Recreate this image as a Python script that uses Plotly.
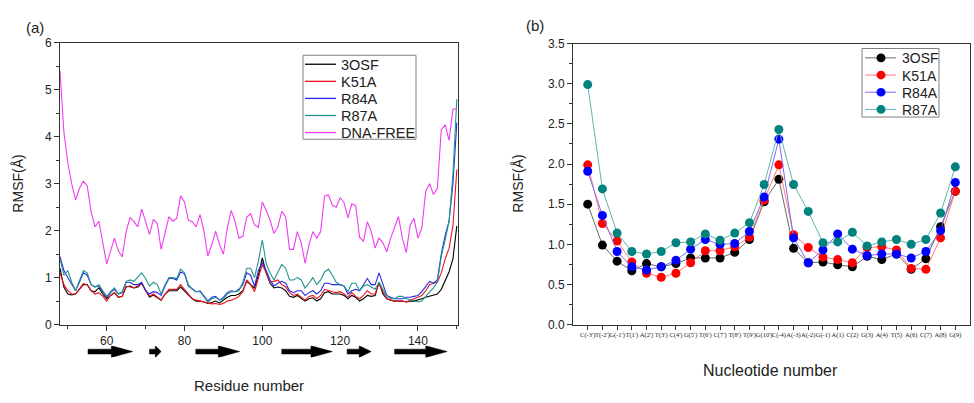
import plotly.graph_objects as go

# ---------------- data: panel (a) ----------------
residues = list(range(48, 151))
rmsf_3osf = [1.20, 0.80, 0.65, 0.63, 0.65, 0.75, 0.85, 0.85, 0.72, 0.70,
             0.78, 0.65, 0.55, 0.62, 0.68, 0.58, 0.60, 0.80, 0.82, 0.78,
             0.80, 0.88, 0.72, 0.58, 0.63, 0.58, 0.52, 0.65, 0.72, 0.72,
             0.72, 0.80, 0.72, 0.62, 0.55, 0.50, 0.50, 0.48, 0.45, 0.47,
             0.50, 0.46, 0.52, 0.58, 0.62, 0.62, 0.65, 0.72, 0.92, 0.85,
             0.78, 1.05, 1.42, 1.10, 0.88, 0.78, 0.80, 0.78, 0.72, 0.60,
             0.58, 0.62, 0.55, 0.50, 0.55, 0.57, 0.50, 0.55, 0.68, 0.70,
             0.65, 0.65, 0.65, 0.62, 0.55, 0.62, 0.58, 0.50, 0.55, 0.62,
             0.60, 0.62, 0.90, 0.65, 0.55, 0.52, 0.50, 0.50, 0.50, 0.48,
             0.50, 0.50, 0.52, 0.55, 0.58, 0.60, 0.62, 0.65, 0.75, 0.95,
             1.12, 1.40, 2.10]
rmsf_k51a = [1.10, 0.85, 0.72, 0.65, 0.65, 0.75, 0.87, 0.85, 0.72, 0.65,
             0.68, 0.60, 0.50, 0.62, 0.68, 0.58, 0.60, 0.82, 0.80, 0.78,
             0.82, 0.88, 0.72, 0.60, 0.65, 0.58, 0.52, 0.65, 0.75, 0.75,
             0.75, 0.85, 0.75, 0.65, 0.55, 0.52, 0.50, 0.47, 0.45, 0.44,
             0.45, 0.43, 0.45, 0.50, 0.52, 0.55, 0.60, 0.70, 0.95, 0.85,
             0.70, 1.00, 1.28, 1.10, 0.90, 0.92, 0.95, 0.85, 0.80, 0.68,
             0.62, 0.65, 0.58, 0.52, 0.60, 0.62, 0.55, 0.62, 0.75, 0.72,
             0.70, 0.68, 0.70, 0.65, 0.58, 0.68, 0.60, 0.55, 0.62, 0.72,
             0.65, 0.65, 0.88, 0.70, 0.55, 0.52, 0.50, 0.50, 0.50, 0.48,
             0.52, 0.55, 0.58, 0.62, 0.72, 0.85, 0.88, 0.90, 1.10, 1.40,
             1.62, 2.10, 3.30]
rmsf_r84a = [1.45, 1.15, 1.00, 0.85, 0.72, 0.90, 1.10, 1.05, 0.85, 0.80,
             0.82, 0.70, 0.58, 0.68, 0.75, 0.65, 0.68, 0.90, 0.90, 0.85,
             0.85, 0.90, 0.72, 0.65, 0.70, 0.68, 0.62, 0.82, 0.98, 0.98,
             0.95, 1.12, 1.08, 0.82, 0.75, 0.70, 0.72, 0.60, 0.50, 0.58,
             0.60, 0.52, 0.58, 0.68, 0.72, 0.70, 0.75, 0.85, 1.10, 1.05,
             0.82, 1.15, 1.32, 1.15, 0.95, 0.82, 0.88, 0.92, 0.88, 0.72,
             0.68, 0.72, 0.72, 0.62, 0.68, 0.72, 0.65, 0.72, 0.88, 0.88,
             0.85, 0.85, 0.85, 0.82, 0.65, 0.72, 0.75, 0.72, 0.85, 0.98,
             0.85, 0.85, 1.10, 0.85, 0.62, 0.58, 0.55, 0.55, 0.55, 0.58,
             0.58, 0.60, 0.62, 0.70, 0.80, 0.92, 0.88, 0.95, 1.50, 1.90,
             2.20, 3.00, 4.30]
rmsf_r87a = [1.40, 1.05, 1.15, 0.90, 0.72, 0.95, 1.15, 1.10, 0.85, 0.80,
             0.85, 0.72, 0.60, 0.70, 0.78, 0.65, 0.70, 0.92, 0.95, 0.92,
             1.00, 1.10, 0.98, 0.82, 0.90, 0.85, 0.65, 0.85, 1.00, 1.00,
             0.98, 1.18, 1.10, 0.85, 0.75, 0.70, 0.70, 0.58, 0.48, 0.55,
             0.58, 0.52, 0.55, 0.65, 0.70, 0.70, 0.72, 0.90, 1.20, 1.20,
             1.00, 1.35, 1.80, 1.30, 1.10, 0.95, 1.10, 1.28, 1.20, 0.95,
             0.95, 1.00, 0.95, 0.78, 0.88, 1.00, 0.85, 0.95, 1.12, 1.18,
             1.05, 0.90, 0.85, 0.82, 0.70, 0.88, 0.88, 0.72, 0.82, 0.85,
             0.80, 0.75, 0.90, 0.75, 0.60, 0.55, 0.55, 0.60, 0.60, 0.55,
             0.52, 0.50, 0.48, 0.50, 0.60, 0.68, 0.78, 0.90, 1.45, 1.80,
             2.20, 3.20, 4.80]
rmsf_dnafree = [5.40, 4.10, 3.45, 3.00, 2.65, 2.90, 3.05, 2.95, 2.40, 2.08,
                2.20, 1.77, 1.29, 1.57, 1.84, 1.57, 1.44, 1.98, 2.28, 2.19,
                2.08, 2.46, 2.19, 1.92, 2.24, 2.15, 1.60, 1.94, 2.30, 2.20,
                2.26, 2.74, 2.61, 2.22, 2.19, 2.08, 2.34, 1.98, 1.46, 1.70,
                1.99, 1.70, 1.50, 2.05, 2.43, 2.19, 1.84, 1.88, 2.29, 2.36,
                2.12, 2.07, 2.61, 2.43, 2.22, 1.94, 2.08, 2.41, 2.29, 1.60,
                1.60, 1.98, 1.74, 1.31, 1.70, 1.98, 1.84, 1.98, 2.74, 2.76,
                2.54, 2.50, 2.70, 2.60, 2.27, 2.57, 2.53, 1.86, 1.77, 2.19,
                1.98, 1.63, 1.84, 1.74, 1.55, 1.84, 2.05, 2.30, 1.84, 1.53,
                2.12, 2.26, 1.84, 2.05, 2.84, 3.00, 2.77, 2.90, 4.15, 4.25,
                3.92, 4.58, 4.60]
# beta strands (start, end residue)
strand_start = [55.2, 71.0, 82.9, 105.0, 121.8, 134.0]
strand_end = [66.7, 74.0, 94.2, 118.0, 128.0, 147.5]

# ---------------- data: panel (b) ----------------
nucleotides = ["C(-3')", "T(-2')", "G(-1')", "T(1')", "A(2')", "T(3')", "C(4')",
               "G(5')", "T(6')", "C(7')", "T(8')", "T(9')", "G(10')", "C(-4)",
               "A(-3)", "A(-2)", "G(-1)", "A(1)", "C(2)", "G(3)", "A(4)", "T(5)",
               "A(6)", "C(7)", "A(8)", "G(9)"]
nuc_pos = list(range(1, 27))
na_3osf = [1.50, 0.99, 0.79, 0.67, 0.76, 0.72, 0.76, 0.83, 0.83, 0.83, 0.90, 1.06, 1.53,
           1.81, 0.95, 0.77, 0.78, 0.745, 0.72, 0.85, 0.81, 0.88, 0.69, 0.82, 1.22, 1.66]
na_k51a = [1.99, 1.26, 1.04, 0.78, 0.64, 0.59, 0.64, 0.77, 0.92, 0.92, 0.97, 1.09, 1.55,
           1.99, 1.12, 0.96, 0.84, 0.81, 0.77, 0.96, 0.97, 0.93, 0.70, 0.69, 1.08, 1.66]
na_r84a = [1.91, 1.36, 0.91, 0.72, 0.68, 0.72, 0.80, 0.94, 1.06, 1.00, 1.01, 1.16, 1.59,
           2.31, 1.08, 0.77, 0.93, 1.13, 0.94, 0.86, 0.88, 0.88, 0.83, 0.91, 1.17, 1.77]
na_r87a = [2.99, 1.69, 1.14, 0.91, 0.88, 0.91, 1.02, 1.03, 1.13, 1.05, 1.14, 1.27, 1.745,
           2.43, 1.745, 1.41, 1.02, 1.03, 1.15, 0.98, 1.03, 1.06, 1.00, 1.06, 1.39, 1.965]

W, H = 974, 403
FONT = "Liberation Sans, Arial, sans-serif"
TXT = "#222222"
AX = "#333333"

def px_x(p):
    return p / W

def px_y(p):
    return (H - p) / H

fig = go.Figure()

left_series = [("3OSF", rmsf_3osf, "#000000"), ("K51A", rmsf_k51a, "#e8141c"),
               ("R84A", rmsf_r84a, "#2a2ae6"), ("R87A", rmsf_r87a, "#22968e"),
               ("DNA-FREE", rmsf_dnafree, "#f03cf0")]
for name, vals, col in left_series:
    fig.add_trace(go.Scatter(x=residues, y=vals, mode="lines", name=name,
                             line=dict(color=col, width=1.1), showlegend=False,
                             xaxis="x", yaxis="y"))

# strand arrows
for s, e in zip(strand_start, strand_end):
    L = e - s
    h = min(5.5, 0.5 * L)
    xs = [s, e - h, e - h, e, e - h, e - h, s, s]
    ys = [0.42, 0.42, 1.0, 0.0, -1.0, -0.42, -0.42, 0.42]
    fig.add_trace(go.Scatter(x=xs, y=ys, mode="lines", fill="toself",
                             fillcolor="#000000", line=dict(color="#000000", width=0.5),
                             showlegend=False, hoverinfo="skip",
                             xaxis="x", yaxis="y3"))

right_series = [("3OSF", na_3osf, "#000000", "#6a6a6a"),
                ("K51A", na_k51a, "#ff0000", "#ff7a7a"),
                ("R84A", na_r84a, "#0000ff", "#7a6af0"),
                ("R87A", na_r87a, "#00827f", "#5fb5b2")]
for name, vals, mcol, lcol in right_series:
    fig.add_trace(go.Scatter(x=nuc_pos, y=vals, mode="lines+markers", name=name,
                             line=dict(color=lcol, width=1),
                             marker=dict(color=mcol, size=9), showlegend=False,
                             xaxis="x2", yaxis="y2"))

axis_common = dict(showline=True, linecolor=AX, linewidth=1, mirror=True,
                   ticks="outside", tickcolor=AX, showgrid=False,
                   zeroline=False)
tickfont = dict(family=FONT, size=12, color=TXT)
minor_style = dict(ticks="outside", ticklen=3, tickcolor=AX, showgrid=False)

fig.update_layout(
    width=W, height=H, margin=dict(l=0, r=0, t=0, b=0),
    paper_bgcolor="white", plot_bgcolor="white", showlegend=False,
    xaxis=dict(domain=[px_x(60), px_x(458)], range=[48, 150.3], anchor="y",
               tick0=40, dtick=20, ticklen=5, tickfont=tickfont,
               minor=dict(dtick=10, **minor_style), **axis_common),
    yaxis=dict(domain=[px_y(329), px_y(37)], range=[0, 6], anchor="x", dtick=1,
               ticklen=5, tickfont=tickfont,
               minor=dict(dtick=0.5, **minor_style), **axis_common),
    yaxis3=dict(domain=[px_y(363), px_y(351)], range=[-1, 1], anchor="x",
                visible=False, fixedrange=True),
    xaxis2=dict(domain=[px_x(573), px_x(970)], range=[0, 27], anchor="y2",
                tickmode="array", tickvals=nuc_pos, ticktext=nucleotides,
                tickangle=0, ticklen=4,
                tickfont=dict(family="Liberation Serif, Times New Roman, serif",
                              size=6.5, color=TXT),
                **axis_common),
    yaxis2=dict(domain=[px_y(329), px_y(38)], range=[0, 3.5], anchor="x2", dtick=0.5,
                tickformat=".1f", ticklen=5, tickfont=tickfont,
                minor=dict(dtick=0.25, **minor_style), **axis_common),
)

# ---- legends (drawn as boxes, sample lines and labels) ----
def box(x0, y0, x1, y1):
    fig.add_shape(type="rect", xref="paper", yref="paper",
                  x0=px_x(x0), x1=px_x(x1), y0=px_y(y1), y1=px_y(y0),
                  line=dict(color="#808080", width=1), fillcolor="white", layer="above")

box(303, 50, 416, 137)
for i, (name, _, col) in enumerate(left_series):
    yy = 59.3 + i * 17.7
    fig.add_shape(type="line", xref="paper", yref="paper", layer="above",
                  x0=px_x(305), x1=px_x(336), y0=px_y(yy), y1=px_y(yy),
                  line=dict(color=col, width=1.3))
    fig.add_annotation(xref="paper", yref="paper", x=px_x(339), y=px_y(yy + 0.5),
                       text=name, showarrow=False, xanchor="left", yanchor="middle",
                       font=dict(family=FONT, size=14.5, color=TXT))

box(862, 43, 939, 114)
for i, (name, _, mcol, lcol) in enumerate(right_series):
    yy = 52.7 + i * 17.8
    fig.add_shape(type="line", xref="paper", yref="paper", layer="above",
                  x0=px_x(865), x1=px_x(896), y0=px_y(yy), y1=px_y(yy),
                  line=dict(color=lcol, width=1))
    r = 4.5
    fig.add_shape(type="circle", xref="paper", yref="paper", layer="above",
                  x0=px_x(881 - r), x1=px_x(881 + r), y0=px_y(yy + r), y1=px_y(yy - r),
                  line=dict(color=mcol, width=0), fillcolor=mcol)
    fig.add_annotation(xref="paper", yref="paper", x=px_x(899.5), y=px_y(yy + 0.5),
                       text=name, showarrow=False, xanchor="left", yanchor="middle",
                       font=dict(family=FONT, size=14, color=TXT))

ann = [
    dict(text="(a)", x=px_x(35), y=px_y(21), font=dict(size=15)),
    dict(text="(b)", x=px_x(535), y=px_y(19), font=dict(size=15)),
    dict(text="RMSF(Å)", x=px_x(18), y=px_y(183), textangle=-90, font=dict(size=14)),
    dict(text="RMSF(Å)", x=px_x(518), y=px_y(183), textangle=-90, font=dict(size=14)),
    dict(text="Residue number", x=px_x(249), y=px_y(392), font=dict(size=15)),
    dict(text="Nucleotide number", x=px_x(770), y=px_y(377), font=dict(size=16)),
]
for a in ann:
    f = dict(family=FONT, color=TXT)
    f.update(a.pop("font"))
    fig.add_annotation(xref="paper", yref="paper", showarrow=False,
                       xanchor="center", yanchor="middle", font=f, **a)

fig.write_html(
    "out.html",
    config={"displayModeBar": False},
    post_script="document.documentElement.style.margin='0';"
                "document.body.style.margin='0';"
                "document.body.style.overflow='hidden';",
)
